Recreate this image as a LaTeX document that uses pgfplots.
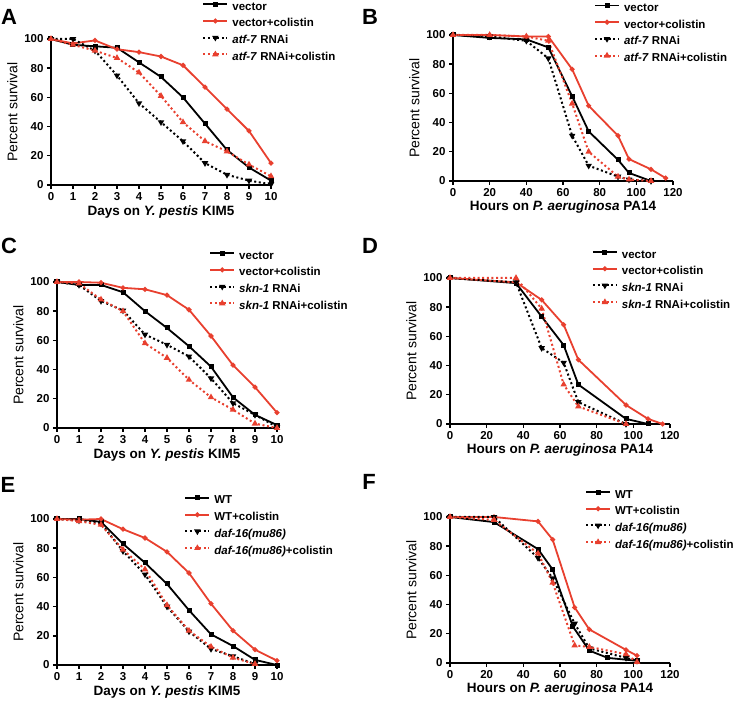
\documentclass[border=0pt]{standalone}
\usepackage{fontspec}
\setmainfont{Liberation Sans}
\usepackage{pgfplots}
\pgfplotsset{compat=1.18}
\definecolor{pred}{HTML}{E8402F}
\newcommand{\lf}{\bfseries\fontsize{11.5}{12}\selectfont}

\pgfplotsset{
  km/.style={
    width=220pt, height=146pt, scale only axis, anchor=south west,
    axis lines=left, axis line style={line width=1.7pt,-},
    tick align=outside, major tick length=4pt,
    tick style={line width=1.4pt,black},
    ymin=0, ymax=100, ytick={0,20,...,100},
    clip=false,
    /pgf/number format/assume math mode=true,
    tick label style={font=\lf},
    ylabel={Percent survival},
    ylabel style={font=\fontsize{14}{16}\selectfont},
    xlabel style={font=\bfseries\fontsize{13.5}{15}\selectfont, inner sep=1pt},
    legend cell align=left,
    legend style={draw=none, fill=none, anchor=north west, inner sep=0pt, outer sep=0pt,
      row sep=5.7pt, column sep=4pt, font=\lf,
      nodes={inner sep=0pt, text height=8.5pt, text depth=2.5pt}},
    legend image code/.code={\draw[mark repeat=2,mark phase=2,##1] plot coordinates {(0pt,3pt) (12pt,3pt) (24pt,3pt)};},
  },
  days/.style={xmin=0, xmax=10, xtick={0,...,10}, xlabel={Days on \textit{Y. pestis} KIM5}},
  hours/.style={xmin=0, xmax=120, xtick={0,20,...,120}, xlabel={Hours on \textit{P. aeruginosa} PA14}},
  s1/.style={black, line width=1.8pt, mark=square*, mark size=1.6pt},
  s2/.style={pred, line width=1.8pt, mark=*, mark size=1.5pt},
  s3/.style={black, line width=2pt, dash pattern=on 2pt off 2.6pt, mark=triangle*, mark size=1.8pt, mark options={solid, rotate=180}},
  s4/.style={pred, line width=2pt, dash pattern=on 2pt off 2.6pt, mark=triangle*, mark size=1.8pt, mark options={solid}},
}

\begin{document}
\begin{tikzpicture}
\useasboundingbox (0,0) rectangle (736pt,712pt);

% A
\begin{axis}[km, days, at={(51pt,527pt)}, legend style={at={(0.688,1.255)}}]
\addplot[s1] coordinates {(0,100)(1,96)(2,95)(3,94)(4,84)(5,74)(6,60)(7,42)(8,24)(9,12)(10,3)};
\addplot[s2] coordinates {(0,100)(1,97)(2,99)(3,93)(4,91)(5,88)(6,82)(7,67)(8,52)(9,37)(10,15)};
\addplot[s3] coordinates {(0,100)(1,100)(2,92)(3,75)(4,56)(5,43)(6,30)(7,15)(8,7)(9,3)(10,0.5)};
\addplot[s4] coordinates {(0,100)(1,96)(2,92)(3,87)(4,77)(5,61)(6,43)(7,30)(8,23)(9,14)(10,6)};
\legend{vector, vector+colistin, \textit{atf-7} RNAi, \textit{atf-7} RNAi+colistin}
\end{axis}

% B
\begin{axis}[km, hours, at={(453pt,531pt)}, legend style={at={(0.641,1.219)}}]
\addplot[s1] coordinates {(0,100)(20,98)(40,97)(52,91.5)(65,58)(74,34)(90,14.5)(96,5.5)(108,0)};
\addplot[s2] coordinates {(0,100)(20,100)(40,99)(52,99)(65,76.5)(74,51.5)(90,31)(96,15)(108,8)(116,2)};
\addplot[s3] coordinates {(0,100)(20,99)(40,96)(52,84)(65,31)(74,10.5)(90,3)(96,1)(108,0)};
\addplot[s4] coordinates {(0,100)(20,100)(40,99)(52,96)(65,53)(74,20)(90,3)(96,1)(108,0)};
\legend{vector, vector+colistin, \textit{atf-7} RNAi, \textit{atf-7} RNAi+colistin}
\end{axis}

% C
\begin{axis}[km, days, at={(57pt,284pt)}, legend style={at={(0.692,1.214)}}]
\addplot[s1] coordinates {(0,100)(1,98)(2,98)(3,93)(4,80)(5,68.5)(6,56)(7,42)(8,21)(9,9)(10,2)};
\addplot[s2] coordinates {(0,100)(1,100)(2,99.5)(3,96)(4,95)(5,91)(6,81)(7,63)(8,43)(9,28)(10,10.5)};
\addplot[s3] coordinates {(0,100)(1,98)(2,87)(3,80.5)(4,64)(5,57)(6,49)(7,34)(8,17)(9,9)(10,0.7)};
\addplot[s4] coordinates {(0,100)(1,99)(2,88)(3,80)(4,58)(5,48)(6,33)(7,21)(8,12.5)(9,3)(10,0)};
\legend{vector, vector+colistin, \textit{skn-1} RNAi, \textit{skn-1} RNAi+colistin}
\end{axis}

% D
\begin{axis}[km, hours, at={(450pt,288pt)}, legend style={at={(0.645,1.195)}}]
\addplot[s1] coordinates {(0,100)(36,96.5)(50,73.5)(62,54)(70,27)(96,3.5)(108,0)};
\addplot[s2] coordinates {(0,100)(36,97)(50,85)(62,68)(70,44)(96,13)(108,3.5)(116,0)};
\addplot[s3] coordinates {(0,100)(36,97)(50,52)(62,42)(70,15)(96,0)};
\addplot[s4] coordinates {(0,100)(36,100)(50,79)(62,27)(70,12)(96,0)};
\legend{vector, vector+colistin, \textit{skn-1} RNAi, \textit{skn-1} RNAi+colistin}
\end{axis}

% E
\begin{axis}[km, days, at={(57pt,47pt)}, legend style={at={(0.579,1.161)}}]
\addplot[s1] coordinates {(0,100)(1,100)(2,98)(3,83)(4,70)(5,55.5)(6,37.5)(7,21)(8,13)(9,3.5)(10,0)};
\addplot[s2] coordinates {(0,100)(1,99.5)(2,100)(3,93)(4,87)(5,77.5)(6,63)(7,42)(8,23.5)(9,10.5)(10,3)};
\addplot[s3] coordinates {(0,100)(1,99)(2,97)(3,78)(4,62)(5,40)(6,23)(7,11)(8,6)(9,0.7)};
\addplot[s4] coordinates {(0,100)(1,98.5)(2,96)(3,79)(4,65.5)(5,41)(6,23.5)(7,12.5)(8,5)(9,0.7)};
\legend{WT, WT+colistin, \textit{daf-16(mu86)}, \textit{daf-16(mu86)}+colistin}
\end{axis}

% F
\begin{axis}[km, hours, at={(450pt,49pt)}, legend style={at={(0.614,1.188)}}]
\addplot[s1] coordinates {(0,100)(24,96.5)(48,78)(56,64)(67,25)(76,8.5)(86,3.5)(102,1.5)};
\addplot[s2] coordinates {(0,100)(24,100)(48,97)(56,84.5)(68,38)(76,23)(96,9)(102,5)};
\addplot[s3] coordinates {(0,100)(24,100)(48,72)(56,58)(68,27)(76,10)(96,3.5)(102,1.5)};
\addplot[s4] coordinates {(0,100)(24,98)(48,75)(56,55)(68,12)(76,11)(96,6)(102,0.7)};
\legend{WT, WT+colistin, \textit{daf-16(mu86)}, \textit{daf-16(mu86)}+colistin}
\end{axis}

\begin{scope}[every node/.style={font=\bfseries\fontsize{22}{24}\selectfont}]
\node at (9pt,695pt) {A};
\node at (370pt,695pt) {B};
\node at (9pt,466pt) {C};
\node at (370pt,466pt) {D};
\node at (8pt,227pt) {E};
\node at (369pt,230pt) {F};
\end{scope}
\end{tikzpicture}
\end{document}
